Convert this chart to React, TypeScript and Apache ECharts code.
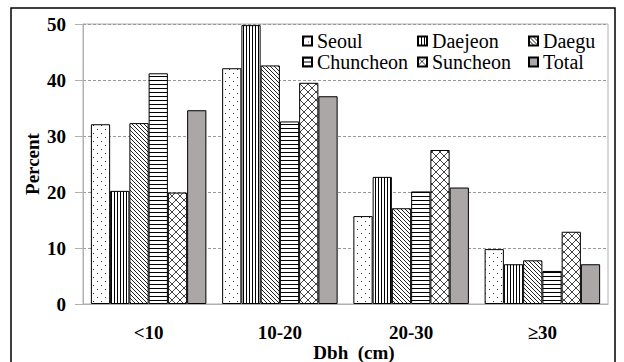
import React, { useEffect, useRef } from "react";
import * as echarts from "echarts";

const categories = ["<10", "10-20", "20-30", "≥30"];
const seriesNames = ["Seoul", "Daejeon", "Daegu", "Chuncheon", "Suncheon", "Total"];
const seoul = [32.1, 42.1, 15.7, 9.8];
const daejeon = [20.2, 49.8, 22.7, 7.1];
const daegu = [32.3, 42.6, 17.1, 7.8];
const chuncheon = [41.2, 32.6, 20.1, 5.9];
const suncheon = [19.9, 39.5, 27.5, 12.9];
const total = [34.6, 37.1, 20.8, 7.1];
const yTicks = [0, 10, 20, 30, 40, 50];

const FONT = "Liberation Serif";

function makeCanvas(w: number, h: number, draw: (ctx: CanvasRenderingContext2D) => void) {
  const c = document.createElement("canvas");
  c.width = w;
  c.height = h;
  const ctx = c.getContext("2d")!;
  ctx.fillStyle = "#fff";
  ctx.fillRect(0, 0, w, h);
  draw(ctx);
  return c;
}

function patterns() {
  const dots = makeCanvas(8, 8, (ctx) => {
    ctx.fillStyle = "#333";
    ctx.fillRect(1, 1, 1, 1);
    ctx.fillRect(5, 5, 1, 1);
  });
  const vlines = makeCanvas(3, 4, (ctx) => {
    ctx.fillStyle = "#000";
    ctx.fillRect(0, 0, 1, 4);
  });
  const diag = makeCanvas(4, 4, (ctx) => {
    ctx.fillStyle = "#222";
    for (let i = 0; i < 4; i++) ctx.fillRect(i, i, 1, 1);
  });
  const hlines = makeCanvas(4, 4, (ctx) => {
    ctx.fillStyle = "#000";
    ctx.fillRect(0, 0, 4, 1);
  });
  const cross = makeCanvas(8, 8, (ctx) => {
    ctx.fillStyle = "#444";
    for (let i = 0; i < 8; i++) {
      ctx.fillRect(i, i, 1, 1);
      ctx.fillRect(7 - i, i, 1, 1);
    }
  });
  return [dots, vlines, diag, hlines, cross];
}

export default function App() {
  const ref = useRef<HTMLDivElement>(null);
  useEffect(() => {
    document.body.style.margin = "0";
    const chart = echarts.init(ref.current!, null, { renderer: "svg" });
    const pats = patterns();
    const values = [seoul, daejeon, daegu, chuncheon, suncheon, total];
    const fills: any[] = pats.map((p) => ({ image: p, repeat: "repeat" }));
    fills.push("#aba7a6");
    const series = seriesNames.map((name, i) => ({
      name,
      type: "bar",
      data: values[i],
      barGap: "0%",
      barCategoryGap: "12%",
      itemStyle: { color: fills[i], borderColor: "#000", borderWidth: 1 },
    }));
    const legendBase = {
      orient: "vertical",
      top: 31,
      itemWidth: 9,
      itemHeight: 9,
      itemGap: 1,
      icon: "rect",
      formatter: (n: string) => "{a|" + n + "}",
      textStyle: {
        fontFamily: FONT,
        fontSize: 20,
        color: "#000",
        rich: { a: { fontFamily: FONT, fontSize: 20, color: "#000" } },
      },
      padding: 0,
    };
    chart.setOption({
      animation: false,
      textStyle: { fontFamily: FONT },
      grid: {
        left: 83,
        top: 24,
        right: 16,
        bottom: 58,
        show: true,
        borderColor: "#b0b0b0",
        borderWidth: 1,
      },
      legend: [
        { ...legendBase, left: 302, data: ["Seoul", "Chuncheon"] },
        { ...legendBase, left: 417, data: ["Daejeon", "Suncheon"] },
        { ...legendBase, left: 528, data: ["Daegu", "Total"] },
      ],
      xAxis: {
        type: "category",
        data: categories,
        axisLine: { lineStyle: { color: "#b0b0b0" } },
        axisTick: { show: false },
        axisLabel: {
          formatter: (v: string) => "{b|" + v + "}",
          rich: { b: { fontFamily: FONT, fontSize: 19, fontWeight: "bold", color: "#000" } },
          fontFamily: FONT,
          fontSize: 19,
          fontWeight: "bold",
          color: "#000",
          margin: 19,
        },
      },
      yAxis: {
        type: "value",
        min: yTicks[0],
        max: yTicks[yTicks.length - 1],
        interval: 10,
        axisLine: { show: true, lineStyle: { color: "#b0b0b0" } },
        axisTick: { show: true, length: 8, lineStyle: { color: "#b0b0b0" } },
        splitLine: { lineStyle: { color: "#999", type: [3, 2] } },
        axisLabel: {
          formatter: (v: number) => "{b|" + v + "}",
          rich: { b: { fontFamily: FONT, fontSize: 19, fontWeight: "bold", color: "#000" } },
          fontFamily: FONT,
          fontSize: 19,
          fontWeight: "bold",
          color: "#000",
          margin: 17,
        },
      },
      series,
      graphic: [
        {
          type: "rect",
          shape: { x: 11, y: 8, width: 604, height: 420 },
          style: { fill: "none", stroke: "#000", lineWidth: 1.5 },
          silent: true,
        },
        {
          type: "text",
          x: 32,
          y: 164,
          rotation: Math.PI / 2,
          style: {
            text: "Percent",
            fontFamily: FONT,
            fontSize: 19,
            fontWeight: "bold",
            fill: "#000",
            align: "center",
            verticalAlign: "middle",
          },
        },
        {
          type: "text",
          x: 354,
          y: 352,
          style: {
            text: "Dbh  (cm)",
            fontFamily: FONT,
            fontSize: 19,
            fontWeight: "bold",
            fill: "#000",
            align: "center",
            verticalAlign: "middle",
          },
        },
      ],
    });
    return () => chart.dispose();
  }, []);
  return <div ref={ref} style={{ width: 624, height: 362 }} />;
}
